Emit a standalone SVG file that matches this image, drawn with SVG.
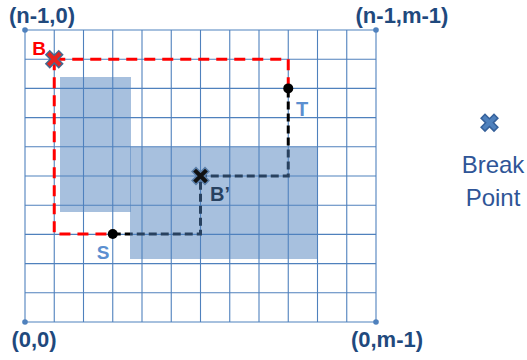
<svg xmlns="http://www.w3.org/2000/svg" width="527" height="360" viewBox="0 0 527 360" xmlns:xlink="http://www.w3.org/1999/xlink">
<style>
.grid line{stroke:#4f81bd;stroke-width:1.1}
.lbl{font-family:"Liberation Sans",Arial,sans-serif;font-weight:bold;font-size:22px;fill:#1f497d;text-anchor:middle}
.red{fill:none;stroke:#ff0000;stroke-width:3;stroke-dasharray:11 7}
.dark{fill:none;stroke:#000;stroke-width:3;stroke-dasharray:8 4}
.region{fill:#4f81bd;fill-opacity:0.5}
.leg{font-family:"Liberation Sans",Arial,sans-serif;font-size:24px;fill:#2f5597;text-anchor:middle}
</style>
<defs>
<g id="xo"><path d="M-4.5,-4.5L4.5,4.5M4.5,-4.5L-4.5,4.5" stroke-width="7" stroke-linecap="square"/></g>
<g id="xi"><path d="M-4.5,-4.5L4.5,4.5M4.5,-4.5L-4.5,4.5" stroke-width="4" stroke-linecap="square"/></g>
</defs>
<g id="grid" class="grid">
<line x1="25" y1="30" x2="25" y2="322"/><line x1="54.25" y1="30" x2="54.25" y2="322"/><line x1="83.5" y1="30" x2="83.5" y2="322"/><line x1="112.75" y1="30" x2="112.75" y2="322"/><line x1="142" y1="30" x2="142" y2="322"/><line x1="171.25" y1="30" x2="171.25" y2="322"/><line x1="200.5" y1="30" x2="200.5" y2="322"/><line x1="229.75" y1="30" x2="229.75" y2="322"/><line x1="259" y1="30" x2="259" y2="322"/><line x1="288.25" y1="30" x2="288.25" y2="322"/><line x1="317.5" y1="30" x2="317.5" y2="322"/><line x1="346.75" y1="30" x2="346.75" y2="322"/><line x1="376" y1="30" x2="376" y2="322"/>
<line x1="25" y1="30" x2="376" y2="30"/><line x1="25" y1="59.2" x2="376" y2="59.2"/><line x1="25" y1="88.4" x2="376" y2="88.4"/><line x1="25" y1="117.6" x2="376" y2="117.6"/><line x1="25" y1="146.8" x2="376" y2="146.8"/><line x1="25" y1="176" x2="376" y2="176"/><line x1="25" y1="205.2" x2="376" y2="205.2"/><line x1="25" y1="234.4" x2="376" y2="234.4"/><line x1="25" y1="263.6" x2="376" y2="263.6"/><line x1="25" y1="292.8" x2="376" y2="292.8"/><line x1="25" y1="322" x2="376" y2="322"/>
</g>
<g id="corners" fill="#4f81bd">
<circle cx="25" cy="30" r="2.8"/><circle cx="376" cy="30" r="2.8"/><circle cx="25" cy="322" r="2.8"/><circle cx="376" cy="322" r="2.8"/>
</g>
<g id="connectors">
<path class="red" d="M54.25,59.2H288.25V88.4"/>
<path class="red" d="M54.25,59.2V234H112.75"/>
<path class="dark" d="M112.75,234H200.5V176H288.25V88.4"/>
</g>
<text id="bprime-label" x="220" y="201" font-family="Liberation Sans,Arial,sans-serif" font-weight="bold" font-size="20" fill="#000" text-anchor="middle">B’</text>
<g id="regions">
<rect class="region" x="60" y="77" width="71" height="135"/>
<rect class="region" x="130" y="147" width="188" height="112"/>
</g>
<g id="S"><circle cx="112.75" cy="234" r="5" fill="#000"/><text x="103" y="259" font-family="Liberation Sans,Arial,sans-serif" font-weight="bold" font-size="19" fill="#5b8fd0" text-anchor="middle">S</text></g>
<g id="T"><circle cx="288.25" cy="88.4" r="5" fill="#000"/><text x="302" y="116" font-family="Liberation Sans,Arial,sans-serif" font-weight="bold" font-size="20" fill="#5b8fd0" text-anchor="middle">T</text></g>
<g id="B"><use xlink:href="#xo" x="54.25" y="59.2" stroke="#44688f"/><use xlink:href="#xi" x="54.25" y="59.2" stroke="#e8231f"/><text x="39" y="55" font-family="Liberation Sans,Arial,sans-serif" font-weight="bold" font-size="19" fill="#ff0000" text-anchor="middle">B</text></g>
<g id="Bprime"><use xlink:href="#xo" x="200.5" y="176" stroke="#5a7ea8"/><use xlink:href="#xi" x="200.5" y="176" stroke="#111"/></g>
<g id="labels">
<text class="lbl" x="42" y="23">(n-1,0)</text>
<text class="lbl" x="402" y="23">(n-1,m-1)</text>
<text class="lbl" x="34" y="347">(0,0)</text>
<text class="lbl" x="387" y="347">(0,m-1)</text>
</g>
<g id="legend">
<use xlink:href="#xo" x="489.5" y="122.7" stroke="#35609a"/><use xlink:href="#xi" x="489.5" y="122.7" stroke="#4f81bd"/>
<text class="leg" x="493" y="173">Break</text>
<text class="leg" x="493" y="206">Point</text>
</g>
</svg>
